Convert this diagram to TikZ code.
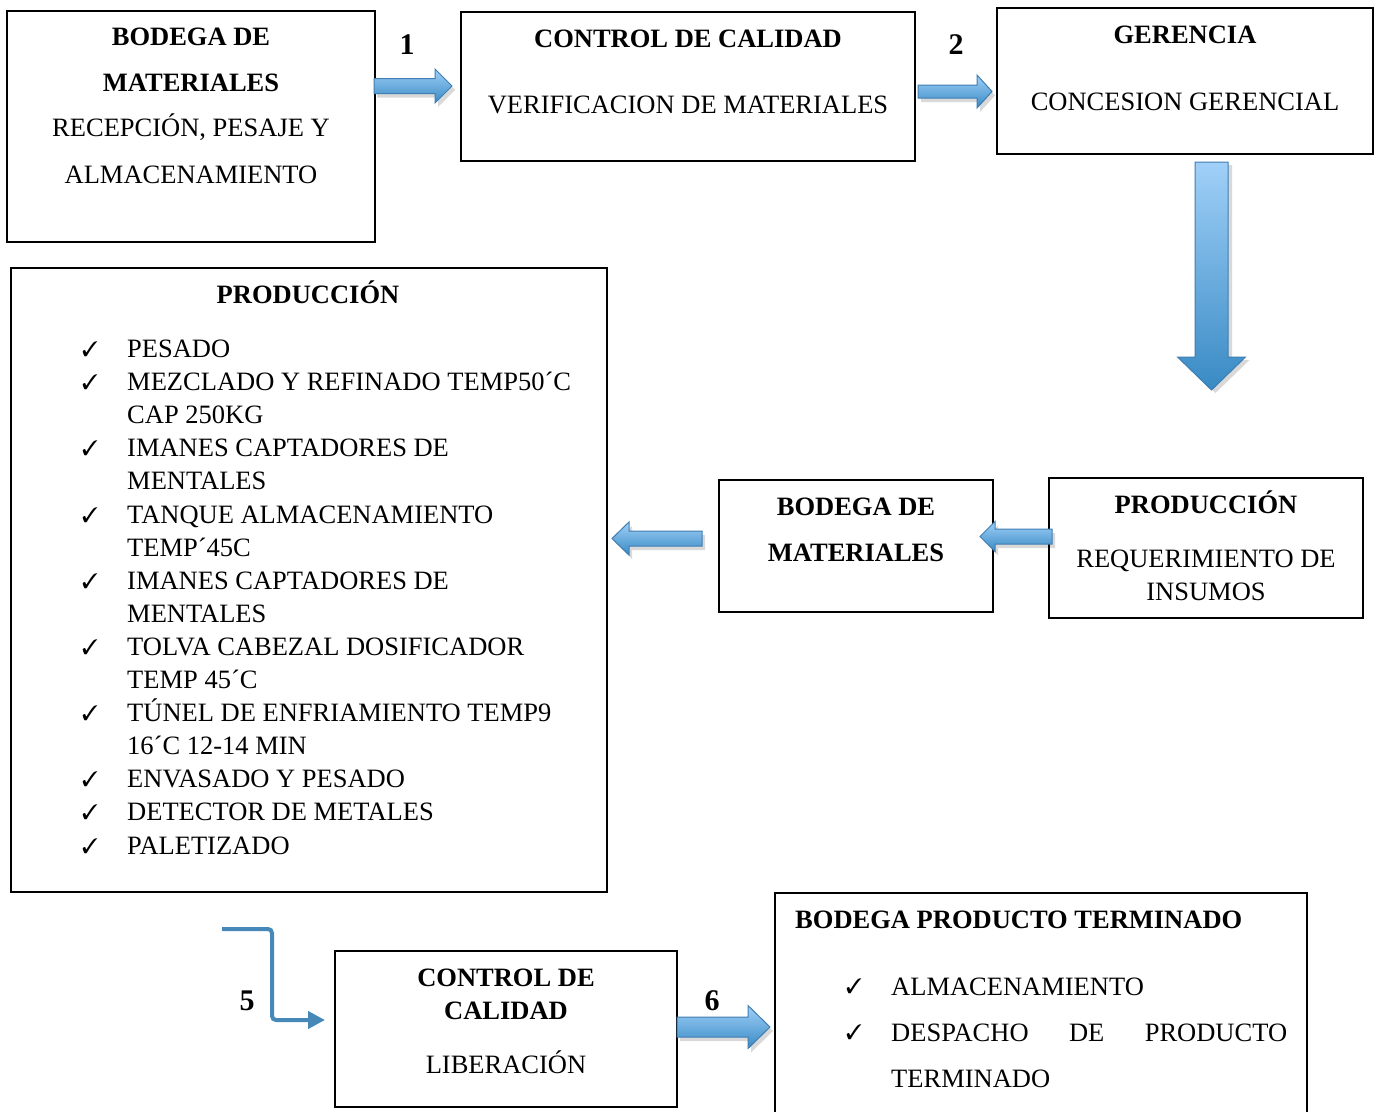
\documentclass[tikz,border=0pt]{standalone}
\usepackage{pifont}
\usepackage{fontspec}
\setmainfont{Liberation Serif}
\usetikzlibrary{arrows.meta}
\definecolor{alight}{RGB}{160,208,248}
\definecolor{adark}{RGB}{56,138,196}
\definecolor{aline}{RGB}{64,126,178}
\definecolor{bentc}{RGB}{70,136,184}
\newcommand\bigf{\fontsize{26.5}{33}\selectfont}
% horizontal block arrow: tail x, head-base x, tip x, centre y, half body, half head
\newcommand\hblockarrow[6]{%
  \fill[black,opacity=0.15,shift={(3,4)}] (#1,{#4-#5}) -- (#2,{#4-#5}) -- (#2,{#4-#6}) -- (#3,#4) -- (#2,{#4+#6}) -- (#2,{#4+#5}) -- (#1,{#4+#5}) -- cycle;
  \shade[top color=alight,bottom color=adark,draw=aline,line width=1pt,line join=miter]
    (#1,{#4-#5}) -- (#2,{#4-#5}) -- (#2,{#4-#6}) -- (#3,#4) -- (#2,{#4+#6}) -- (#2,{#4+#5}) -- (#1,{#4+#5}) -- cycle;}
% vertical block arrow: tail y, head-base y, tip y, centre x, half body, half head
\newcommand\vblockarrow[6]{%
  \fill[black,opacity=0.15,shift={(4,3)}] ({#4-#5},#1) -- ({#4-#5},#2) -- ({#4-#6},#2) -- (#4,#3) -- ({#4+#6},#2) -- ({#4+#5},#2) -- ({#4+#5},#1) -- cycle;
  \shade[top color=alight,bottom color=adark,draw=aline,line width=1pt]
    ({#4-#5},#1) -- ({#4-#5},#2) -- ({#4-#6},#2) -- (#4,#3) -- ({#4+#6},#2) -- ({#4+#5},#2) -- ({#4+#5},#1) -- cycle;}
\begin{document}
\begin{tikzpicture}[x=1pt,y=-1pt,
  box/.style={draw=black, line width=1.2pt, inner sep=0pt, outer sep=0pt, rectangle},
  txt/.style={anchor=base, inner sep=0pt, font=\bigf},
  btxt/.style={anchor=base, inner sep=0pt, font=\bigf\bfseries},
  ltxt/.style={anchor=base west, inner sep=0pt, font=\bigf},
  chk/.style={anchor=base, inner sep=0pt, font=\fontsize{21}{25}\selectfont},
  num/.style={anchor=base, inner sep=0pt, font=\fontsize{30}{34}\selectfont\bfseries}]
\useasboundingbox (0,0) rectangle (1381,1111);
\clip (0,0) rectangle (1381,1111);
\fill[white] (0,0) rectangle (1381,1111);

% boxes
\node[box, minimum width=368pt, minimum height=231pt] (b1) at (191,126.5) {};
\node[box, minimum width=454pt, minimum height=149pt] (b2) at (688,86.5) {};
\node[box, minimum width=376pt, minimum height=146pt] (b3) at (1185,81) {};
\node[box, minimum width=596pt, minimum height=624pt] (bp) at (309,580) {};
\node[box, minimum width=274pt, minimum height=132pt] (bm) at (856,546) {};
\node[box, minimum width=314pt, minimum height=140pt] (pr) at (1206,548) {};
\node[box, minimum width=342pt, minimum height=156pt] (cc) at (506,1029) {};
\node[box, minimum width=532pt, minimum height=240pt] (bt) at (1041,1013) {};

% box 1
\node[btxt] (b1a) at (191,45) {BODEGA DE};
\node[btxt] (b1b) at (191,91) {MATERIALES};
\node[txt] (b1c) at (191,136) {RECEPCIÓN, PESAJE Y};
\node[txt] (b1d) at (191,183) {ALMACENAMIENTO};
% box 2
\node[btxt] (b2a) at (688,47) {CONTROL DE CALIDAD};
\node[txt] (b2b) at (688,113) {VERIFICACION DE MATERIALES};
% box 3
\node[btxt] (b3a) at (1185,43) {GERENCIA};
\node[txt] (b3b) at (1185,110) {CONCESION GERENCIAL};
% bodega materiales
\node[btxt] (bma) at (856,515) {BODEGA DE};
\node[btxt] (bmb) at (856,561) {MATERIALES};
% produccion small
\node[btxt] (pra) at (1206,513) {PRODUCCIÓN};
\node[txt] (prb) at (1206,567) {REQUERIMIENTO DE};
\node[txt] (prc) at (1206,600) {INSUMOS};
% control de calidad
\node[btxt] (cca) at (506,986) {CONTROL DE};
\node[btxt] (ccb) at (506,1019) {CALIDAD};
\node[txt] (ccc) at (506,1073) {LIBERACIÓN};

% produccion big
\node[btxt] (bpt) at (308,303) {PRODUCCIÓN};
\foreach \y [count=\i] in {348,381,447,514,580,646,712,778,811,845}
  \node[chk] (pc\i) at (90,{\y+8}) {\ding{51}};
\foreach \y/\t [count=\i] in {348/PESADO, 381/MEZCLADO Y REFINADO TEMP50´C, 414/CAP 250KG,
   447/IMANES CAPTADORES DE, 480/MENTALES, 514/TANQUE ALMACENAMIENTO, 547/TEMP´45C,
   580/IMANES CAPTADORES DE, 613/MENTALES, 646/TOLVA CABEZAL DOSIFICADOR, 679/TEMP 45´C,
   712/TÚNEL DE ENFRIAMIENTO TEMP9, 745/16´C 12-14 MIN, 778/ENVASADO Y PESADO,
   811/DETECTOR DE METALES, 845/PALETIZADO}
  \node[ltxt] (pl\i) at (127,{\y+9}) {\t};

% bodega producto terminado
\node[anchor=base west, inner sep=0pt, font=\bigf\bfseries] (bta) at (795,928) {BODEGA PRODUCTO TERMINADO};
\node[chk] (btc1) at (854,993) {\ding{51}};
\node[chk] (btc2) at (854,1039) {\ding{51}};
\node[ltxt] (btb) at (891,995) {ALMACENAMIENTO};
\node[ltxt] (btd) at (891,1041) {\makebox[396pt][s]{DESPACHO\hfill DE\hfill PRODUCTO}};
\node[ltxt] (bte) at (891,1087) {TERMINADO};

% numbers
\node[num] (n1) at (407,54) {1};
\node[num] (n2) at (956,54) {2};
\node[num] (n5) at (247,1010) {5};
\node[num] (n6) at (712,1010) {6};

% block arrows
\hblockarrow{374}{435}{452}{86}{7.5}{17}
\hblockarrow{918}{977}{992}{91.5}{6.5}{16.5}
\vblockarrow{162}{357}{390}{1211.5}{16.5}{34}
\hblockarrow{702}{629}{612}{538.5}{7.5}{16.5}
\hblockarrow{1052}{995}{980}{536.5}{7.5}{15}
\hblockarrow{677}{748}{770}{1027}{10}{21.5}

% bent arrow 5
\coordinate (s5) at (222,929);
\coordinate (e5) at (325,1020);
\draw[bentc, line width=4pt, rounded corners=4pt, -{Triangle[length=17pt,width=17pt]}]
  (s5) -- (272,929) -- (272,1020) -- (e5);
\end{tikzpicture}
\end{document}
